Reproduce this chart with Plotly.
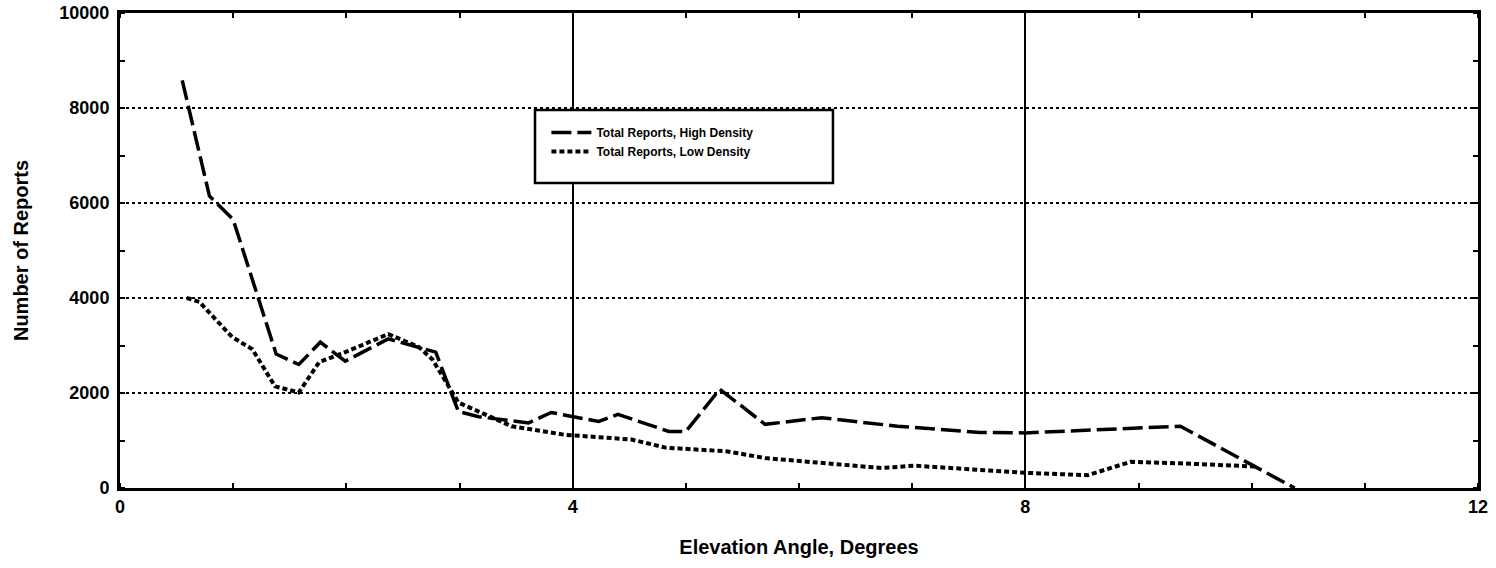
import plotly.graph_objects as go

# High density (long-dash) series
high_x = [0.55, 0.79, 1.0, 1.38, 1.58, 1.77, 1.99, 2.37, 2.79, 2.99, 3.17, 3.61, 3.81, 4.23,
          4.40, 4.85, 5.0, 5.30, 5.70, 6.2, 6.87, 7.6, 8.0, 9.37, 10.38]
high_y = [8580, 6150, 5650, 2820, 2600, 3070, 2670, 3140, 2860, 1610, 1500, 1370, 1590, 1400,
          1550, 1190, 1190, 2080, 1340, 1480, 1300, 1170, 1160, 1300, 0]

# Low density (dotted) series
low_x = [0.59, 0.70, 0.99, 1.17, 1.37, 1.58, 1.76, 1.99, 2.37, 2.64, 2.76, 2.99, 3.46, 3.93,
         4.23, 4.52, 4.82, 5.37, 5.70, 6.28, 6.73, 7.02, 7.61, 8.0, 8.55, 8.93, 9.37, 10.05]
low_y = [4000, 3920, 3180, 2920, 2140, 2010, 2650, 2860, 3240, 2970, 2710, 1800, 1300, 1120,
         1070, 1020, 850, 770, 630, 520, 420, 470, 380, 320, 270, 550, 520, 450]

x_ticks = [0, 4, 8, 12]
y_ticks = [0, 2000, 4000, 6000, 8000, 10000]

FONT = "Liberation Sans, Arial, sans-serif"

fig = go.Figure()
fig.add_trace(go.Scatter(x=high_x, y=high_y, mode="lines", name="Total Reports, High Density",
                         line=dict(color="black", width=3.5, dash="20px,6px")))
fig.add_trace(go.Scatter(x=low_x, y=low_y, mode="lines", name="Total Reports, Low Density",
                         line=dict(color="black", width=4, dash="5px,3px")))

# legend frame (white box with black border), drawn as a paper shape
fig.add_shape(type="rect", xref="paper", yref="paper",
              x0=0.3056, x1=0.525, y0=0.642, y1=0.796,
              fillcolor="white", line=dict(color="black", width=2.5), layer="above")

fig.update_layout(
    width=1496, height=568,
    margin=dict(l=120, r=18, t=13, b=80),
    paper_bgcolor="white", plot_bgcolor="white",
    font=dict(family=FONT, color="black"),
    showlegend=True,
    legend=dict(x=0.314, y=0.779, xanchor="left", yanchor="top",
                bgcolor="rgba(0,0,0,0)", borderwidth=0,
                font=dict(size=12, family=FONT, weight="bold"),
                tracegroupgap=0, itemwidth=40),
)
fig.update_xaxes(
    range=[0, 12], tickvals=x_ticks, ticktext=[str(v) for v in x_ticks],
    showgrid=True, gridcolor="black", gridwidth=2,
    showline=True, linecolor="black", linewidth=3, mirror="allticks",
    ticks="", tickfont=dict(size=18, family=FONT, weight="bold"),
    zeroline=False, automargin="bottom",
    minor=dict(dtick=1, ticks="inside", ticklen=5, tickcolor="black", tickwidth=2, showgrid=False),
    title=dict(text="Elevation Angle, Degrees", font=dict(size=20, family=FONT, weight="bold"), standoff=25),
)
fig.update_yaxes(
    range=[0, 10000], tickvals=y_ticks, ticktext=[str(v) for v in y_ticks],
    showgrid=True, gridcolor="black", gridwidth=1.5, griddash="dot",
    showline=True, linecolor="black", linewidth=3, mirror="allticks",
    ticks="", tickfont=dict(size=18, family=FONT, weight="bold"),
    ticklabelstandoff=4,
    zeroline=False, automargin="left",
    minor=dict(dtick=1000, ticks="inside", ticklen=5, tickcolor="black", tickwidth=2, showgrid=False),
    title=dict(text="Number of Reports", font=dict(size=20, family=FONT, weight="bold"), standoff=26),
)

fig.write_html("out.html", config={"displayModeBar": False},
               post_script="document.body.style.margin='0';document.body.style.overflow='hidden';")
